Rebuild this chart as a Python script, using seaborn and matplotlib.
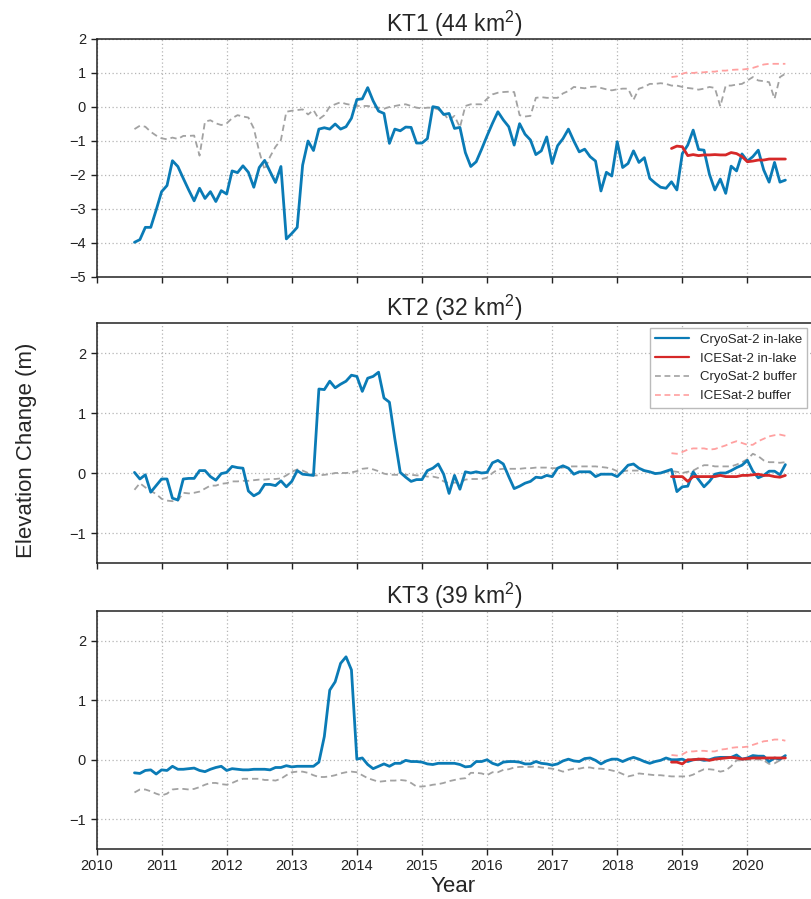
import numpy as np
import pandas as pd
import matplotlib
matplotlib.use("Agg")
import matplotlib.pyplot as plt
import seaborn as sns

# ---------------- data ----------------
# monthly CryoSat-2 epochs: Aug 2010 .. Aug 2020 (121 months)
cs2_dates = pd.date_range("2010-08-01", periods=121, freq="MS")
# ICESat-2 epochs: Nov 2018 .. Aug 2020 (22 months)
is2_dates = pd.date_range("2018-11-01", periods=22, freq="MS")

lake_names = ["KT1", "KT2", "KT3"]
lake_areas = [44, 32, 39]

kt1_cs2_lake = [
    -3.98, -3.90, -3.54, -3.54, -3.03, -2.49, -2.31, -1.58, -1.75, -2.10,
    -2.44, -2.76, -2.39, -2.69, -2.49, -2.78, -2.46, -2.56, -1.88, -1.93,
    -1.73, -1.92, -2.36, -1.78, -1.57, -1.90, -2.22, -1.75, -3.88, -3.72,
    -3.54, -1.71, -1.00, -1.28, -0.65, -0.61, -0.65, -0.50, -0.65, -0.58,
    -0.33, 0.22,
    0.24, 0.57, 0.18, -0.12, -0.19, -1.07, -0.65, -0.70, -0.59, -0.60,
    -1.06, -1.06, -0.93, 0.01, -0.02, -0.22, -0.19, -0.63, -0.60, -1.34,
    -1.75, -1.61, -1.24, -0.85, -0.48, -0.14, -0.38, -0.58, -1.12, -0.49,
    -0.80, -0.97, -1.40, -1.29, -0.88, -1.66, -1.14, -0.93, -0.65, -1.00,
    -1.32, -1.24,
    -1.46, -1.59, -2.47, -1.92, -2.03, -1.02, -1.78, -1.66, -1.29, -1.63,
    -1.49, -2.10, -2.24, -2.36, -2.39, -2.20, -2.44, -1.37, -1.12, -0.68,
    -1.25, -1.27, -1.98, -2.44, -2.12, -2.54, -1.74, -1.88, -1.38, -1.59,
    -1.46, -1.27, -1.85, -2.21, -1.63, -2.21, -2.15,
]
kt1_cs2_buffer = [
    -0.65, -0.55, -0.58, -0.73, -0.84, -0.92, -0.95, -0.90, -0.94, -0.85,
    -0.85, -0.84, -1.43, -0.43, -0.39, -0.48, -0.53, -0.48, -0.33, -0.24,
    -0.28, -0.31, -0.63, -1.31, -1.85, -1.46, -1.17, -0.97, -0.14, -0.11,
    -0.09, -0.07, -0.22, -0.09, -0.36, -0.24, 0.01, 0.08, 0.14, 0.09,
    0.06, 0.03,
    0.03, 0.03, 0.00, -0.02, -0.05, 0.00, 0.03, 0.06, 0.08, 0.03,
    -0.02, -0.04, -0.02, -0.02, -0.07, -0.19, -0.39, -0.26, -0.60, 0.03,
    0.08, 0.08, 0.08, 0.24, 0.37, 0.42, 0.44, 0.45, 0.44, -0.24,
    -0.28, -0.26, 0.27, 0.29, 0.27, 0.27, 0.27, 0.40, 0.47, 0.59,
    0.57, 0.55,
    0.59, 0.60, 0.56, 0.52, 0.49, 0.52, 0.54, 0.54, 0.21, 0.54,
    0.59, 0.68, 0.68, 0.70, 0.68, 0.63, 0.63, 0.59, 0.56, 0.54,
    0.51, 0.54, 0.59, 0.56, 0.02, 0.63, 0.63, 0.66, 0.68, 0.78,
    0.88, 0.78, 0.76, 0.73, 0.24, 0.88, 0.98,
]
kt1_is2_lake = [
    -1.22, -1.15, -1.17, -1.43, -1.40, -1.43, -1.41, -1.41, -1.40, -1.41,
    -1.41, -1.34, -1.37, -1.46, -1.61, -1.59, -1.56, -1.56, -1.53, -1.53,
    -1.53, -1.53,
]
kt1_is2_buffer = [
    0.88, 0.90, 0.98, 1.02, 1.00, 1.02, 1.02, 1.04, 1.04, 1.07,
    1.07, 1.09, 1.10, 1.10, 1.12, 1.15, 1.20, 1.25, 1.27, 1.27,
    1.27, 1.27,
]

kt2_cs2_lake = [
    0.01, -0.10, -0.03, -0.32, -0.21, -0.10, -0.10, -0.42, -0.45, -0.10,
    -0.09, -0.09, 0.04, 0.04, -0.06, -0.12, -0.01, 0.01, 0.11, 0.09,
    0.08, -0.30, -0.38, -0.33, -0.19, -0.19, -0.21, -0.13, -0.23, -0.14,
    0.04, -0.02, -0.03, -0.04, 1.40, 1.39, 1.53, 1.42, 1.48, 1.53,
    1.63, 1.61, 1.36, 1.58, 1.61, 1.68, 1.25, 1.18, 0.57, 0.01,
    -0.07, -0.14, -0.11, -0.11, 0.04, 0.08, 0.15, -0.02, -0.34, -0.04,
    -0.27,
    0.02, 0.00, 0.02, 0.00, 0.01, 0.17, 0.21, 0.15, -0.06, -0.26,
    -0.22, -0.17, -0.14, -0.07, -0.08, -0.04, -0.06, 0.08, 0.12, 0.08,
    -0.02, 0.02, 0.02, 0.02, -0.06, -0.02, -0.02, -0.02, -0.06, 0.03,
    0.13, 0.15, 0.08, 0.04, 0.02, -0.01, 0.00, 0.03, 0.06, -0.31,
    -0.23, -0.22, 0.02, -0.11, -0.23, -0.14, -0.02, 0.00, 0.00, 0.04,
    0.09, 0.13, 0.21, 0.03, -0.08, -0.04, 0.03, 0.03, -0.03, 0.14,
]
kt2_cs2_buffer = [
    -0.28, -0.17, -0.24, -0.30, -0.35, -0.43, -0.46, -0.47, -0.46, -0.33,
    -0.34, -0.33, -0.31, -0.26, -0.21, -0.21, -0.18, -0.17, -0.14, -0.14,
    -0.13, -0.13, -0.12, -0.11, -0.11, -0.10, -0.10, -0.09, -0.04, 0.02,
    0.06, 0.04, 0.00, -0.04, -0.04, -0.03, -0.02, 0.00, 0.00, 0.00,
    0.01, 0.03, 0.07, 0.08, 0.06, 0.03, -0.01, -0.03, -0.03, -0.03,
    -0.03, -0.03, -0.04, -0.04, -0.06, -0.06, -0.08, -0.14, -0.17, -0.16,
    -0.16,
    -0.11, -0.10, -0.10, -0.10, -0.08, 0.00, 0.06, 0.07, 0.07, 0.07,
    0.07, 0.08, 0.08, 0.09, 0.09, 0.09, 0.08, 0.08, 0.09, 0.11,
    0.11, 0.11, 0.11, 0.11, 0.11, 0.10, 0.09, 0.07, 0.03, 0.03,
    0.04, 0.04, 0.04, 0.03, 0.02, 0.00, 0.00, 0.02, 0.03, 0.02,
    0.00, 0.02, 0.04, 0.09, 0.13, 0.13, 0.11, 0.11, 0.11, 0.11,
    0.14, 0.18, 0.23, 0.32, 0.28, 0.21, 0.18, 0.18, 0.17, 0.18,
]
kt2_is2_lake = [
    -0.06, -0.06, -0.06, -0.14, -0.06, -0.06, -0.06, -0.06, -0.06, -0.04,
    -0.06, -0.06, -0.06, -0.04, -0.04, -0.03, -0.02, -0.04, -0.04, -0.06,
    -0.07, -0.04,
]
kt2_is2_buffer = [
    0.33, 0.32, 0.35, 0.39, 0.41, 0.41, 0.41, 0.39, 0.40, 0.43,
    0.46, 0.50, 0.53, 0.50, 0.47, 0.47, 0.53, 0.57, 0.61, 0.63,
    0.64, 0.62,
]

kt3_cs2_lake = [
    -0.22, -0.23, -0.18, -0.17, -0.24, -0.17, -0.18, -0.11, -0.16, -0.16,
    -0.15, -0.14, -0.18, -0.20, -0.16, -0.13, -0.11, -0.18, -0.15, -0.16,
    -0.17, -0.17, -0.16, -0.16, -0.16, -0.17, -0.13, -0.13, -0.10, -0.12,
    -0.11, -0.11, -0.11, -0.11, -0.04, 0.39, 1.17, 1.31, 1.62, 1.73,
    1.51, 0.01, 0.03, -0.08, -0.15, -0.11, -0.07, -0.11, -0.06, -0.06,
    -0.01, -0.03, -0.03, -0.04, -0.07, -0.08, -0.06, -0.06, -0.06,
    -0.06, -0.08, -0.12, -0.11, -0.03, -0.03, 0.00, -0.06, -0.09, -0.04,
    -0.03, -0.03, -0.04, -0.07, -0.07, -0.03, -0.06, -0.07, -0.09, -0.07,
    -0.02, 0.01, -0.02, -0.03, 0.02, 0.03, -0.01, -0.07, -0.02, 0.01,
    0.01, -0.03, 0.01, 0.04, 0.01, -0.03, -0.06, -0.03, -0.01, 0.03,
    0.00, 0.00, 0.01, -0.03, 0.00, 0.01, -0.01, 0.00, 0.03, 0.04,
    0.04, 0.04, 0.08, 0.01, 0.03, 0.07, 0.06, 0.06, -0.03, 0.03,
    0.01, 0.07,
]
kt3_cs2_buffer = [
    -0.55, -0.50, -0.50, -0.53, -0.57, -0.60, -0.57, -0.50, -0.49, -0.49,
    -0.50, -0.49, -0.46, -0.42, -0.39, -0.39, -0.41, -0.42, -0.39, -0.35,
    -0.32, -0.32, -0.32, -0.32, -0.34, -0.34, -0.35, -0.32, -0.26, -0.21,
    -0.20, -0.20, -0.22, -0.26, -0.29, -0.29, -0.28, -0.26, -0.23, -0.21,
    -0.20, -0.21, -0.26, -0.31, -0.34, -0.37, -0.36, -0.35, -0.35, -0.34,
    -0.35, -0.39, -0.45, -0.45, -0.44, -0.42, -0.41, -0.39, -0.36,
    -0.34, -0.32, -0.31, -0.22, -0.22, -0.23, -0.26, -0.21, -0.21, -0.17,
    -0.16, -0.13, -0.12, -0.12, -0.12, -0.11, -0.13, -0.14, -0.15, -0.17,
    -0.20, -0.17, -0.15, -0.15, -0.13, -0.13, -0.15, -0.15, -0.16, -0.18,
    -0.20, -0.24, -0.28, -0.26, -0.23, -0.24, -0.25, -0.26, -0.26, -0.27,
    -0.28, -0.28, -0.28, -0.28, -0.25, -0.20, -0.16, -0.16, -0.17, -0.20,
    -0.18, -0.11, -0.01, -0.01, 0.00, 0.00, 0.01, -0.01, -0.07, -0.06,
    -0.01, 0.06,
]
kt3_is2_lake = [
    -0.04, -0.04, -0.07, 0.00, 0.00, 0.01, 0.01, -0.01, 0.01, 0.02,
    0.03, 0.04, 0.03, 0.01, 0.02, 0.03, 0.03, 0.03, 0.03, 0.03,
    0.03, 0.03,
]
kt3_is2_buffer = [
    0.08, 0.07, 0.09, 0.14, 0.14, 0.15, 0.15, 0.14, 0.14, 0.17,
    0.18, 0.20, 0.21, 0.21, 0.22, 0.25, 0.28, 0.31, 0.32, 0.34,
    0.34, 0.32,
]

series_labels = ["CryoSat-2 in-lake", "ICESat-2 in-lake",
                 "CryoSat-2 buffer", "ICESat-2 buffer"]
x_ticks = list(range(2010, 2021))
y_limits = [(-5, 2), (-1.5, 2.5), (-1.5, 2.5)]
y_ticks = [list(range(-5, 3)), [-1, 0, 1, 2], [-1, 0, 1, 2]]

lakes = [
    (kt1_cs2_lake, kt1_is2_lake, kt1_cs2_buffer, kt1_is2_buffer),
    (kt2_cs2_lake, kt2_is2_lake, kt2_cs2_buffer, kt2_is2_buffer),
    (kt3_cs2_lake, kt3_is2_lake, kt3_cs2_buffer, kt3_is2_buffer),
]


def dec_year(dates):
    return dates.year + (dates.month - 1) / 12.0


t_cs2 = dec_year(cs2_dates)
t_is2 = dec_year(is2_dates)

# ---------------- style ----------------
sns.set_style("ticks")
plt.rcParams["font.family"] = ["Liberation Sans", "DejaVu Sans"]
plt.rcParams["mathtext.fontset"] = "custom"
plt.rcParams["mathtext.rm"] = "Liberation Sans"
plt.rcParams["mathtext.it"] = "Liberation Sans:italic"
plt.rcParams["axes.edgecolor"] = "#222222"
plt.rcParams["xtick.color"] = "#222222"
plt.rcParams["ytick.color"] = "#222222"
plt.rcParams["axes.unicode_minus"] = True

c_blue = "#0a7bb6"
c_red = "#d62828"
c_gray = "#a2a2a2"
c_pink = "#ffa0a0"

W, H = 811, 899
fig = plt.figure(figsize=(W / 100, H / 100), dpi=100)

left_px = 96.5
right_px = 812.5
panel_px = [(39, 277), (323, 563), (611, 849)]

axes = []
for (top, bot) in panel_px:
    ax = fig.add_axes([left_px / W, 1 - bot / H, (right_px - left_px) / W, (bot - top) / H])
    axes.append(ax)

for i, ax in enumerate(axes):
    cs2_lake, is2_lake, cs2_buf, is2_buf = lakes[i]
    df_cs2 = pd.DataFrame({"t": t_cs2, "lake": cs2_lake, "buf": cs2_buf})
    df_is2 = pd.DataFrame({"t": t_is2, "lake": is2_lake, "buf": is2_buf})

    sns.lineplot(data=df_cs2, x="t", y="buf", ax=ax, color=c_gray, lw=1.3,
                 linestyle=(0, (3.5, 2.2)), estimator=None, label=series_labels[2])
    sns.lineplot(data=df_is2, x="t", y="buf", ax=ax, color=c_pink, lw=1.3,
                 linestyle=(0, (3.5, 2.2)), estimator=None, label=series_labels[3])
    sns.lineplot(data=df_cs2, x="t", y="lake", ax=ax, color=c_blue, lw=2.0,
                 estimator=None, label=series_labels[0])
    sns.lineplot(data=df_is2, x="t", y="lake", ax=ax, color=c_red, lw=2.0,
                 estimator=None, label=series_labels[1])

    ax.set_xlim(2010, 2021)
    ax.set_ylim(*y_limits[i])
    ax.set_xticks(x_ticks)
    ax.set_yticks(y_ticks[i])
    ax.grid(True, linestyle=(0, (1, 2)), color="#b5b5b5", lw=0.9)
    ax.set_xlabel("")
    ax.set_ylabel("")
    ax.tick_params(labelsize=10.5, length=4, width=1)
    for sp in ax.spines.values():
        sp.set_linewidth(1.1)
    ax.set_title(f"{lake_names[i]} ({lake_areas[i]} km$^2$)", fontsize=16.5, pad=5)
    if i < 2:
        ax.tick_params(labelbottom=False)

    handles, labels = ax.get_legend_handles_labels()
    if i == 1:
        order = [labels.index(l) for l in series_labels]
        leg = ax.legend([handles[k] for k in order], [labels[k] for k in order],
                        loc="upper right", fontsize=9.5, frameon=True,
                        handlelength=2.6, borderaxespad=0.4, fancybox=False,
                        edgecolor="#bbbbbb", framealpha=1)
        for lh in leg.get_lines():
            lh.set_linewidth(1.6 if lh.get_linestyle() == "-" else 1.2)
    else:
        ax.get_legend().remove()

fig.text(27 / W, 1 - 450 / H, "Elevation Change (m)", rotation=90,
         ha="center", va="center", fontsize=16)
fig.text(453 / W, 1 - 886 / H, "Year", ha="center", va="center", fontsize=16)

fig.savefig("out.png", dpi=100)
